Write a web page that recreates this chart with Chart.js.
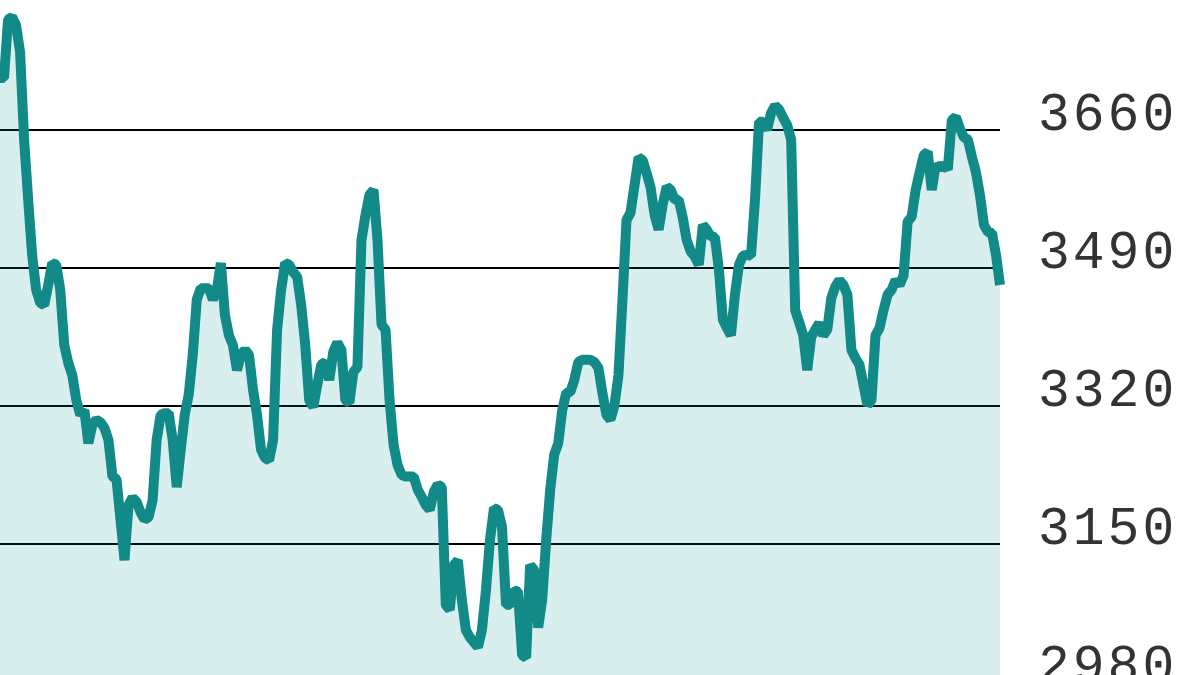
<!DOCTYPE html>
<html>
<head>
<meta charset="utf-8">
<script src="https://cdn.jsdelivr.net/npm/chart.js@4"></script>
<style>
  html, body { margin: 0; padding: 0; background: #fff; overflow: hidden; }
  #frame { width: 1200px; height: 675px; overflow: hidden; }
  #holder { position: relative; width: 1200px; height: 700px; }
</style>
</head>
<body>
<div id="frame"><div id="holder"><canvas id="indexCanvas"></canvas></div></div>
<script>
// Index level, one reading per trading day
const levels = [
    3724, 3724, 3796, 3799, 3789, 3756, 3648, 3575, 3506, 3463,
    3447, 3444, 3469, 3496, 3494, 3463, 3395, 3373, 3358, 3327,
    3309, 3315, 3274, 3297, 3303, 3300, 3293, 3278, 3233, 3230,
    3180, 3130, 3198, 3207, 3202, 3189, 3180, 3183, 3204, 3278,
    3309, 3311, 3311, 3278, 3220, 3266, 3309, 3334, 3383, 3451,
    3465, 3465, 3465, 3451, 3463, 3496, 3432, 3407, 3395, 3364,
    3383, 3389, 3383, 3340, 3309, 3266, 3256, 3253, 3278, 3414,
    3463, 3496, 3494, 3485, 3479, 3444, 3395, 3327, 3319, 3346,
    3371, 3374, 3352, 3387, 3398, 3389, 3327, 3324, 3362, 3368,
    3524, 3555, 3580, 3586, 3524, 3420, 3414, 3327, 3272, 3247,
    3235, 3233, 3233, 3233, 3217, 3208, 3198, 3192, 3214, 3223,
    3220, 3075, 3069, 3124, 3130, 3081, 3044, 3035, 3029, 3023,
    3044, 3093, 3155, 3194, 3192, 3171, 3075, 3075, 3093, 3091,
    3013, 3010, 3124, 3118, 3047, 3081, 3155, 3217, 3260, 3274,
    3315, 3336, 3337, 3352, 3374, 3377, 3377, 3377, 3374, 3367,
    3336, 3309, 3303, 3321, 3358, 3451, 3549, 3558, 3592, 3626,
    3623, 3607, 3589, 3555, 3537, 3568, 3590, 3586, 3574, 3574,
    3552, 3524, 3510, 3504, 3494, 3543, 3537, 3529, 3528, 3488,
    3426, 3416, 3407, 3457, 3494, 3505, 3506, 3505, 3574, 3670,
    3670, 3660, 3681, 3690, 3685, 3675, 3666, 3648, 3438, 3423,
    3407, 3364, 3405, 3414, 3422, 3407, 3414, 3453, 3467, 3475,
    3469, 3457, 3389, 3379, 3371, 3346, 3321, 3327, 3407, 3416,
    3438, 3457, 3463, 3475, 3469, 3481, 3547, 3553, 3586, 3608,
    3629, 3633, 3586, 3617, 3613, 3617, 3611, 3672, 3676, 3662,
    3651, 3648, 3627, 3608, 3580, 3543, 3534, 3533, 3506, 3469
];
const days = levels.map((v, i) => String(i + 1));
const yTicks = [2980, 3150, 3320, 3490, 3660];

// Courier-style labels in the original are spaced a bit wider
const spacedText = {
    id: "spacedText",
    beforeDraw: (chart) => {
        chart.ctx.letterSpacing = "3px";
    },
};

const ctx = document.getElementById("indexCanvas").getContext("2d");
const indexChart = new Chart(ctx, {
    type: "line",
    data: {
        labels: days,
        datasets: [{
            label: "Index",
            data: levels,
            borderColor: "#128a88",
            backgroundColor: "rgba(0, 150, 150, 0.15)",
            borderWidth: 10,
            borderJoinStyle: "bevel",
            pointRadius: 0,
            tension: 0,
            fill: "start",
        }],
    },
    options: {
        responsive: true,
        maintainAspectRatio: false,
        animation: false,
        events: [],
        layout: {
            padding: { left: 0, top: 0, right: 0, bottom: 18 },
        },
        plugins: {
            legend: { display: false },
            tooltip: { enabled: false },
        },
        scales: {
            x: {
                display: false,
            },
            y: {
                position: "right",
                min: 2980,
                max: 3820,
                afterBuildTicks: (scale) => {
                    scale.ticks = yTicks.map((v) => ({ value: v }));
                },
                afterFit: (scale) => {
                    scale.width = 200;
                    scale.paddingTop = 0;
                    scale.paddingBottom = 0;
                },
                border: { display: false },
                grid: {
                    color: "#000",
                    lineWidth: 2,
                    drawTicks: false,
                },
                ticks: {
                    padding: 38,
                    labelOffset: -14,
                    color: "#333",
                    font: { family: "Liberation Mono", size: 53 },
                    callback: (value) => String(value),
                },
            },
        },
    },
    plugins: [spacedText],
});
</script>
</body>
</html>
